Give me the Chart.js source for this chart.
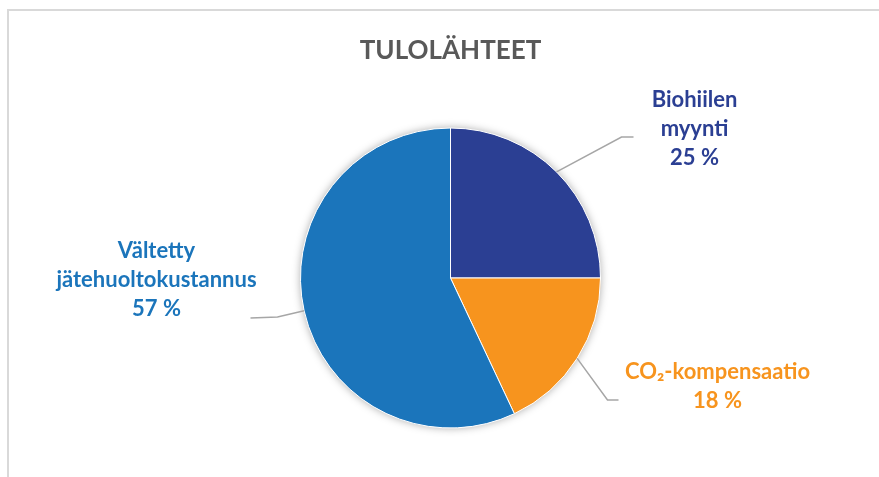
<!DOCTYPE html>
<html>
<head>
<meta charset="utf-8">
<title>Tulolähteet</title>
<script src="https://cdn.jsdelivr.net/npm/chart.js@4"></script>
<style>
  html, body { margin: 0; padding: 0; background: #fff; overflow: hidden; }
  #wrap { position: relative; width: 879px; height: 477px; overflow: hidden; }
  #frame { position: absolute; left: 7px; top: 9px; width: 900px; height: 500px; border: 2px solid #d9d9d9; }
  #pie { position: absolute; left: 0; top: 0; }
</style>
</head>
<body>
<div id="wrap">
  <div id="frame"></div>
  <canvas id="pie" width="879" height="477"></canvas>
</div>
<script>
var categories = [['Biohiilen', 'myynti'], ['CO₂-kompensaatio'], ['Vältetty', 'jätehuoltokustannus']];
var shares = [25, 18, 57];
var sliceColors = ['#2b3f93', '#f7941e', '#1b75bb'];

// callout placement, px relative to the pie centre
var callouts = [
  { elbow: [171, -141], end: [183, -141], text: [244, -171] },
  { elbow: [157, 122], end: [168, 122], text: [267, 101] },
  { elbow: [-173, 39], end: [-200, 40], text: [-294, -20] }
];

// soft shadow behind the whole pie
var pieShadow = {
  id: 'pieShadow',
  beforeDatasetsDraw: function(chart) {
    var arc = chart.getDatasetMeta(0).data[0];
    if (!arc) return;
    var p = arc.getProps(['x', 'y', 'outerRadius'], true);
    var ctx = chart.ctx;
    ctx.save();
    ctx.shadowColor = 'rgba(0,0,0,0.35)';
    ctx.shadowBlur = 9;
    ctx.fillStyle = '#fff';
    ctx.beginPath();
    ctx.arc(p.x, p.y, p.outerRadius, 0, Math.PI * 2);
    ctx.fill();
    ctx.restore();
  }
};

var calloutLabels = {
  id: 'calloutLabels',
  afterDatasetsDraw: function(chart) {
    var ctx = chart.ctx;
    var meta = chart.getDatasetMeta(0);
    ctx.save();
    meta.data.forEach(function(arc, i) {
      var p = arc.getProps(['x', 'y', 'startAngle', 'endAngle', 'outerRadius'], true);
      var mid = (p.startAngle + p.endAngle) / 2;
      var c = callouts[i];
      ctx.strokeStyle = '#a6a6a6';
      ctx.lineWidth = 1.5;
      ctx.beginPath();
      ctx.moveTo(p.x + Math.cos(mid) * p.outerRadius, p.y + Math.sin(mid) * p.outerRadius);
      ctx.lineTo(p.x + c.elbow[0], p.y + c.elbow[1]);
      ctx.lineTo(p.x + c.end[0], p.y + c.end[1]);
      ctx.stroke();

      var lines = categories[i].concat([shares[i] + ' %']);
      ctx.fillStyle = sliceColors[i];
      ctx.font = 'bold 22px Lato';
      ctx.textAlign = 'center';
      ctx.textBaseline = 'alphabetic';
      lines.forEach(function(t, k) {
        ctx.fillText(t, p.x + c.text[0], p.y + c.text[1] + k * 29);
      });
    });
    ctx.restore();
  }
};

var pieChart = new Chart(document.getElementById('pie'), {
  type: 'pie',
  data: {
    labels: categories,
    datasets: [{
      data: shares,
      backgroundColor: sliceColors,
      borderColor: '#ffffff',
      borderWidth: 1
    }]
  },
  options: {
    responsive: false,
    animation: false,
    layout: { padding: { left: 300, right: 278, top: 0, bottom: 48.5 } },
    plugins: {
      legend: { display: false },
      tooltip: { enabled: false },
      title: {
        display: true,
        text: 'TULOLÄHTEET',
        color: '#595959',
        font: { family: 'Lato', size: 26, weight: 'bold', lineHeight: 1.2 },
        padding: { top: 35, bottom: 61.3 }
      }
    }
  },
  plugins: [pieShadow, calloutLabels]
});
</script>
</body>
</html>
